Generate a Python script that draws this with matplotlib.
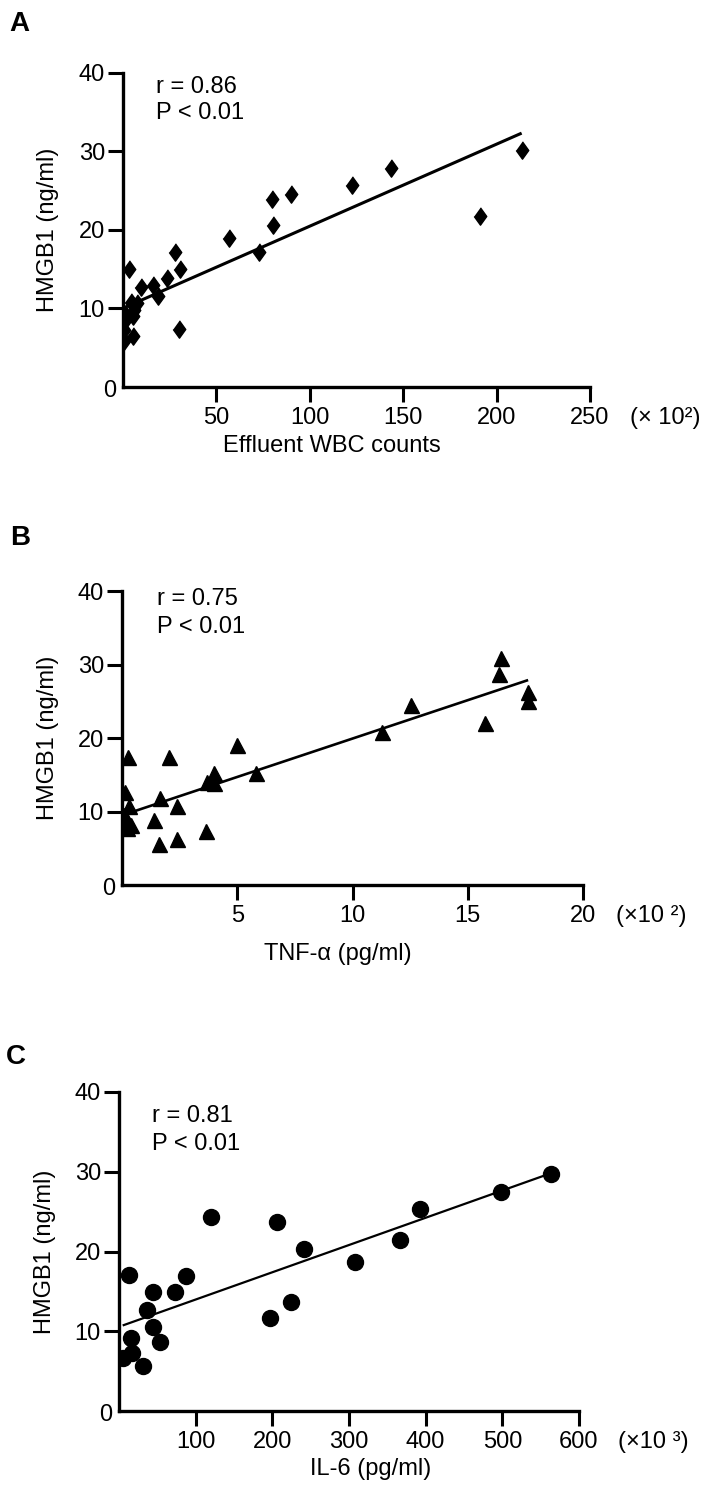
import numpy as np
import matplotlib
matplotlib.use('Agg')
import matplotlib.pyplot as plt

plt.rcParams['font.family'] = ['Liberation Sans', 'DejaVu Sans']

""" DATA """
# A: effluent WBC counts (x 10^2) vs HMGB1 (ng/ml)
wbc = [0.5, 0.5, 0.8, 1.2, 4.5, 5.5, 5.5, 6.0, 7.5, 3.4, 9.6, 16.2, 18.9,
       23.4, 27.8, 30.5, 30.0, 56.6, 73.0, 80.5, 79.6, 89.8, 122.8, 143.5,
       191.3, 213.4]
hmgb1_a = [5.8, 7.2, 8.2, 9.3, 10.8, 6.4, 9.0, 9.8, 10.6, 15.0, 12.7, 13.0,
           11.6, 13.9, 17.1, 15.0, 7.4, 18.9, 17.1, 20.6, 23.9, 24.5, 25.7,
           27.8, 21.8, 30.2]
fit_a = [0.1045, 10.0]   # slope, intercept

# B: TNF-alpha (x 10^2 pg/ml) vs HMGB1
tnf = [0.27, 2.06, 4.99, 4.01, 3.68, 3.97, 5.8, 0.13, 1.65, 0.32, 2.38, 1.4,
       0.2, 0.2, 1.62, 2.38, 3.64, 0.1, 0.4, 16.45, 16.36, 17.62, 17.62,
       12.53, 11.29, 15.75]
hmgb1_b = [17.5, 17.5, 19.1, 15.2, 14.1, 13.9, 15.2, 12.7, 11.9, 10.7, 10.7,
           8.9, 8.9, 7.7, 5.6, 6.3, 7.3, 9.6, 8.2, 30.9, 28.7, 26.3, 25.1,
           24.5, 20.9, 22.1]
fit_b = [1.046, 9.49]

# C: IL-6 (x 10^3 pg/ml) vs HMGB1
il6 = [119.8, 205.7, 240.9, 13.4, 86.8, 44.7, 73.4, 36.0, 44.7, 15.6, 53.4,
       16.5, 4.8, 31.6, 197.5, 224.8, 307.3, 366.3, 392.8, 498.7, 563.4]
hmgb1_c = [24.3, 23.7, 20.3, 17.1, 16.9, 14.9, 14.9, 12.7, 10.5, 9.1, 8.7,
           7.3, 6.6, 5.6, 11.7, 13.7, 18.7, 21.5, 25.3, 27.5, 29.7]
fit_c = [0.03418, 10.56]

y_ticks = [10, 20, 30, 40]
x_ticks_a = [50, 100, 150, 200, 250]
x_ticks_b = [5, 10, 15, 20]
x_ticks_c = [100, 200, 300, 400, 500, 600]

W, H = 710, 1499
FS = 17


def rect(left, right, bottom, top):
    return [left / W, 1 - bottom / H, (right - left) / W, (bottom - top) / H]


def panel(fig, box, x, y, fit, xticks, marker, ms, lw, xlabel, unit, unit_dx,
          xlab_pos, stats, letter):
    ax = fig.add_axes(box)
    ax.plot(x, y, linestyle='none', marker=marker, markersize=ms, color='black')
    xs = np.array([min(x), max(x)])
    ax.plot(xs, fit[0] * xs + fit[1], color='black', lw=lw, solid_capstyle='butt')
    ax.set_xlim(0, xticks[-1])
    ax.set_ylim(0, 40)
    ax.set_xticks(xticks)
    ax.set_yticks(y_ticks)
    for s in ['top', 'right']:
        ax.spines[s].set_visible(False)
    for s in ['left', 'bottom']:
        ax.spines[s].set_linewidth(2.4)
    ax.tick_params(axis='both', direction='out', length=10.5, width=2.2,
                   labelsize=FS)
    ax.tick_params(axis='x', pad=4)
    ax.tick_params(axis='y', pad=2.5)
    ax.annotate('0', xy=(0, 0), xycoords='axes fraction', xytext=(-5, -3),
                textcoords='offset points', ha='right', va='center', fontsize=FS)
    ax.annotate(unit, xy=(1, 0), xycoords='axes fraction',
                xytext=(unit_dx, -14.5), textcoords='offset points',
                ha='left', va='top', fontsize=FS)
    ax.set_xlabel(xlabel, fontsize=FS)
    ax.xaxis.set_label_coords(*xlab_pos)
    ax.set_ylabel('HMGB1 (ng/ml)', fontsize=FS)
    ax.yaxis.set_label_coords(-0.137, 0.5)
    # r and P values, position given in pixels
    sx, sy1, sy2, r_txt = stats
    fig.text(sx / W, 1 - sy1 / H, r_txt, fontsize=FS, va='baseline')
    fig.text(sx / W, 1 - sy2 / H, 'P < 0.01', fontsize=FS, va='baseline')
    lx, ly = letter[1], letter[2]
    fig.text(lx / W, 1 - ly / H, letter[0], fontsize=20, fontweight='bold',
             va='baseline')
    return ax


fig = plt.figure(figsize=(7.1, 14.99), dpi=100)

diamond = [(0, 1), (0.72, 0), (0, -1), (-0.72, 0)]
panel(fig, rect(123, 590, 386.7, 72.7), wbc, hmgb1_a, fit_a, x_ticks_a,
      diamond, 12.5, 2.2, 'Effluent WBC counts', '(× 10²)', 28.5,
      (0.447, -0.155), (156, 93, 119, 'r = 0.86'), ('A', 9, 31))
panel(fig, rect(122, 583, 885, 591.4), tnf, hmgb1_b, fit_b, x_ticks_b,
      '^', 10.8, 1.9, 'TNF-α (pg/ml)', '(×10 ²)', 24,
      (0.469, -0.197), (157, 605, 633, 'r = 0.75'), ('B', 10, 545))
panel(fig, rect(119, 579, 1411, 1092), il6, hmgb1_c, fit_c, x_ticks_c,
      'o', 11.5, 1.6, 'IL-6 (pg/ml)', '(×10 ³)', 28,
      (0.548, -0.146), (152, 1122, 1150, 'r = 0.81'), ('C', 6, 1064))

fig.savefig('out.png', dpi=100)
